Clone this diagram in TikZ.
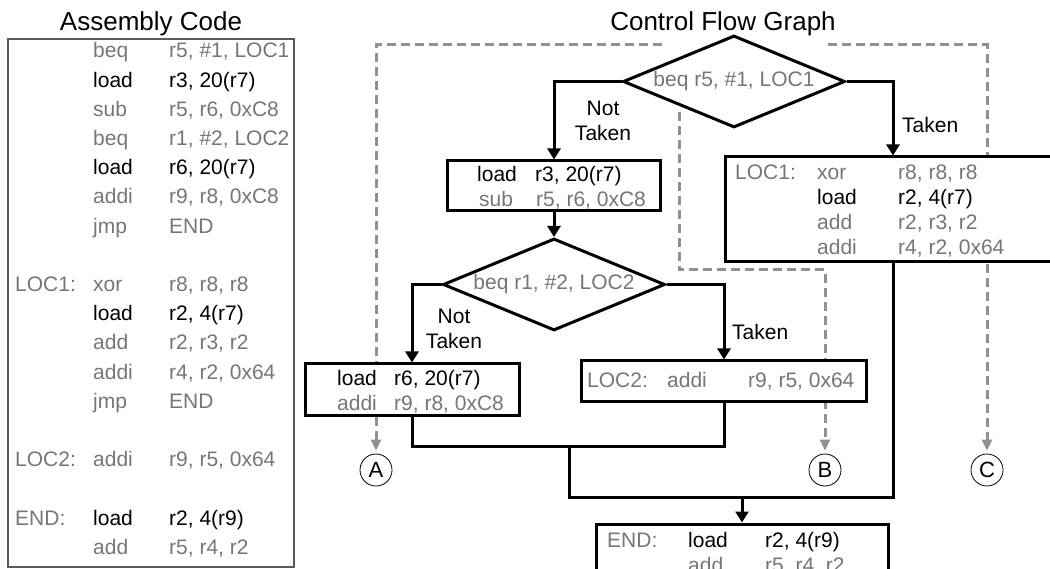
\documentclass[tikz,border=0pt]{standalone}
\usepackage{fontspec}
\setmainfont{Liberation Sans}
\usetikzlibrary{shapes.geometric, arrows.meta}
\definecolor{codegray}{RGB}{118,118,118}
\definecolor{dashgray}{RGB}{145,145,145}
\tikzset{
block/.style={draw, line width=3pt, fill=white, inner sep=0pt}, % boxes of the flow graph
cond/.style={diamond, draw, line width=3pt, fill=white, aspect=2.4, inner sep=0pt,
  minimum width=222pt, minimum height=92pt, text=codegray}, % branch tests
code/.style={anchor=base west, inner sep=0pt},
dim/.style={code, text=codegray},
flow/.style={line width=3pt, -{Triangle[width=13pt, length=11pt]}},
wire/.style={line width=3pt},
spec/.style={dashgray, line width=3pt, dash pattern=on 9pt off 5pt,
  -{Triangle[width=10pt, length=11pt]}, shorten >=3pt},
tag/.style={circle, draw, line width=0.8pt, fill=white, minimum size=32pt, inner sep=0pt,
  font=\fontsize{22}{24}\selectfont},
title/.style={anchor=base, font=\fontsize{26}{30}\selectfont},
}

\begin{document}
\begin{tikzpicture}[x=1pt, y=-1pt, font=\fontsize{21}{25}\selectfont]
\useasboundingbox (0,0) rectangle (1050,569);
\clip (0,0) rectangle (1050,569);

% assembly listing
\node[title] (asmt) at (151,31) {Assembly Code};
\node[draw={rgb,255:red,90;green,90;blue,90}, line width=1.1pt, minimum width=286pt, minimum height=528pt] (asm) at (151,303) {};
\foreach \k/\lab/\op/\arg/\col in {
  0/{}/beq/{r5, \#1, LOC1}/codegray,
  1/{}/load/{r3, 20(r7)}/black,
  2/{}/sub/{r5, r6, 0xC8}/codegray,
  3/{}/beq/{r1, \#2, LOC2}/codegray,
  4/{}/load/{r6, 20(r7)}/black,
  5/{}/addi/{r9, r8, 0xC8}/codegray,
  6/{}/jmp/{END}/codegray,
  8/{LOC1:}/xor/{r8, r8, r8}/codegray,
  9/{}/load/{r2, 4(r7)}/black,
  10/{}/add/{r2, r3, r2}/codegray,
  11/{}/addi/{r4, r2, 0x64}/codegray,
  12/{}/jmp/{END}/codegray,
  14/{LOC2:}/addi/{r9, r5, 0x64}/codegray,
  16/{END:}/load/{r2, 4(r9)}/black,
  17/{}/add/{r5, r4, r2}/codegray}{
  \node[dim] (lab\k) at (15, 58+29.2*\k) {\lab};
  \node[code, text=\col] (op\k) at (93, 58+29.2*\k) {\op};
  \node[code, text=\col] (arg\k) at (169, 58+29.2*\k) {\arg};
}

% control flow graph
\node[title] (cfgt) at (723,31) {Control Flow Graph};

% dashed paths, behind the blocks
\node[tag] (pa) at (376,470) {A};
\node[tag] (pb) at (825,470) {B};
\node[tag] (pc) at (987,470) {C};
\coordinate (sa) at (662,45);
\coordinate (sb) at (679,112);
\coordinate (sc) at (828,45);
\draw[spec] (sa) -| (pa.north);
\draw[spec] (sb) -- ++(0,158) -| (pb.north);
\draw[spec] (sc) -| (pc.north);

\node[cond] (br1) at (734,81.5) {beq r5, \#1, LOC1};
\node[block, minimum width=213pt, minimum height=50pt] (ld3) at (554,186) {};
\node[cond] (br2) at (554,284.5) {beq r1, \#2, LOC2};
\node[block, minimum width=214pt, minimum height=51pt] (ld6) at (412,389.5) {};
\node[block, minimum width=336pt, minimum height=105pt] (loc1) at (893,209.5) {};
\node[block, minimum width=285pt, minimum height=40pt] (loc2) at (724,381) {};
\node[block, minimum width=292pt, minimum height=76pt] (fin) at (742,562) {};

\node[code] (t1) at (477,182) {load};
\node[code] (t2) at (535,182) {r3, 20(r7)};
\node[dim] (t3) at (479,207) {sub};
\node[dim] (t4) at (536,207) {r5, r6, 0xC8};

\node[code] (t5) at (337,385) {load};
\node[code] (t6) at (394,385) {r6, 20(r7)};
\node[dim] (t7) at (337,410) {addi};
\node[dim] (t8) at (394,410) {r9, r8, 0xC8};

\node[dim] (t9) at (735,180) {LOC1:};
\node[dim] (t10) at (817,180) {xor};
\node[dim] (t11) at (898,180) {r8, r8, r8};
\node[code] (t12) at (817,205) {load};
\node[code] (t13) at (898,205) {r2, 4(r7)};
\node[dim] (t14) at (817,230) {add};
\node[dim] (t15) at (898,230) {r2, r3, r2};
\node[dim] (t16) at (817,255) {addi};
\node[dim] (t17) at (898,255) {r4, r2, 0x64};

\node[dim] (t18) at (587,388) {LOC2:};
\node[dim] (t19) at (667,388) {addi};
\node[dim] (t20) at (748,388) {r9, r5, 0x64};

\node[dim] (t21) at (607,547) {END:};
\node[code] (t22) at (688,547) {load};
\node[code] (t23) at (765,547) {r2, 4(r9)};
\node[dim] (t24) at (688,572) {add};
\node[dim] (t25) at (765,572) {r5, r4, r2};

% edge labels
\node[align=center] (nt1) at (603,121) {Not\\Taken};
\node[anchor=west, inner sep=0pt] (tk1) at (902,125) {Taken};
\node[align=center] (nt2) at (454,329) {Not\\Taken};
\node[anchor=west, inner sep=0pt] (tk2) at (732,332) {Taken};

% edges
\coordinate (m1) at (569,446);
\coordinate (m2) at (742,497);
\draw[flow] (br1.west) -| (ld3.north);
\draw[flow] (br1.east) -| (loc1.north);
\draw[flow] (ld3.south) -- (br2.north);
\draw[flow] (br2.west) -| (ld6.north);
\draw[flow] (br2.east) -| (loc2.north);
\draw[wire] (ld6.south) |- (m1) -| (loc2.south);
\draw[wire] (m1) |- (m2) -| (loc1.south);
\draw[flow] (m2) -- (fin.north);

\end{tikzpicture}
\end{document}
